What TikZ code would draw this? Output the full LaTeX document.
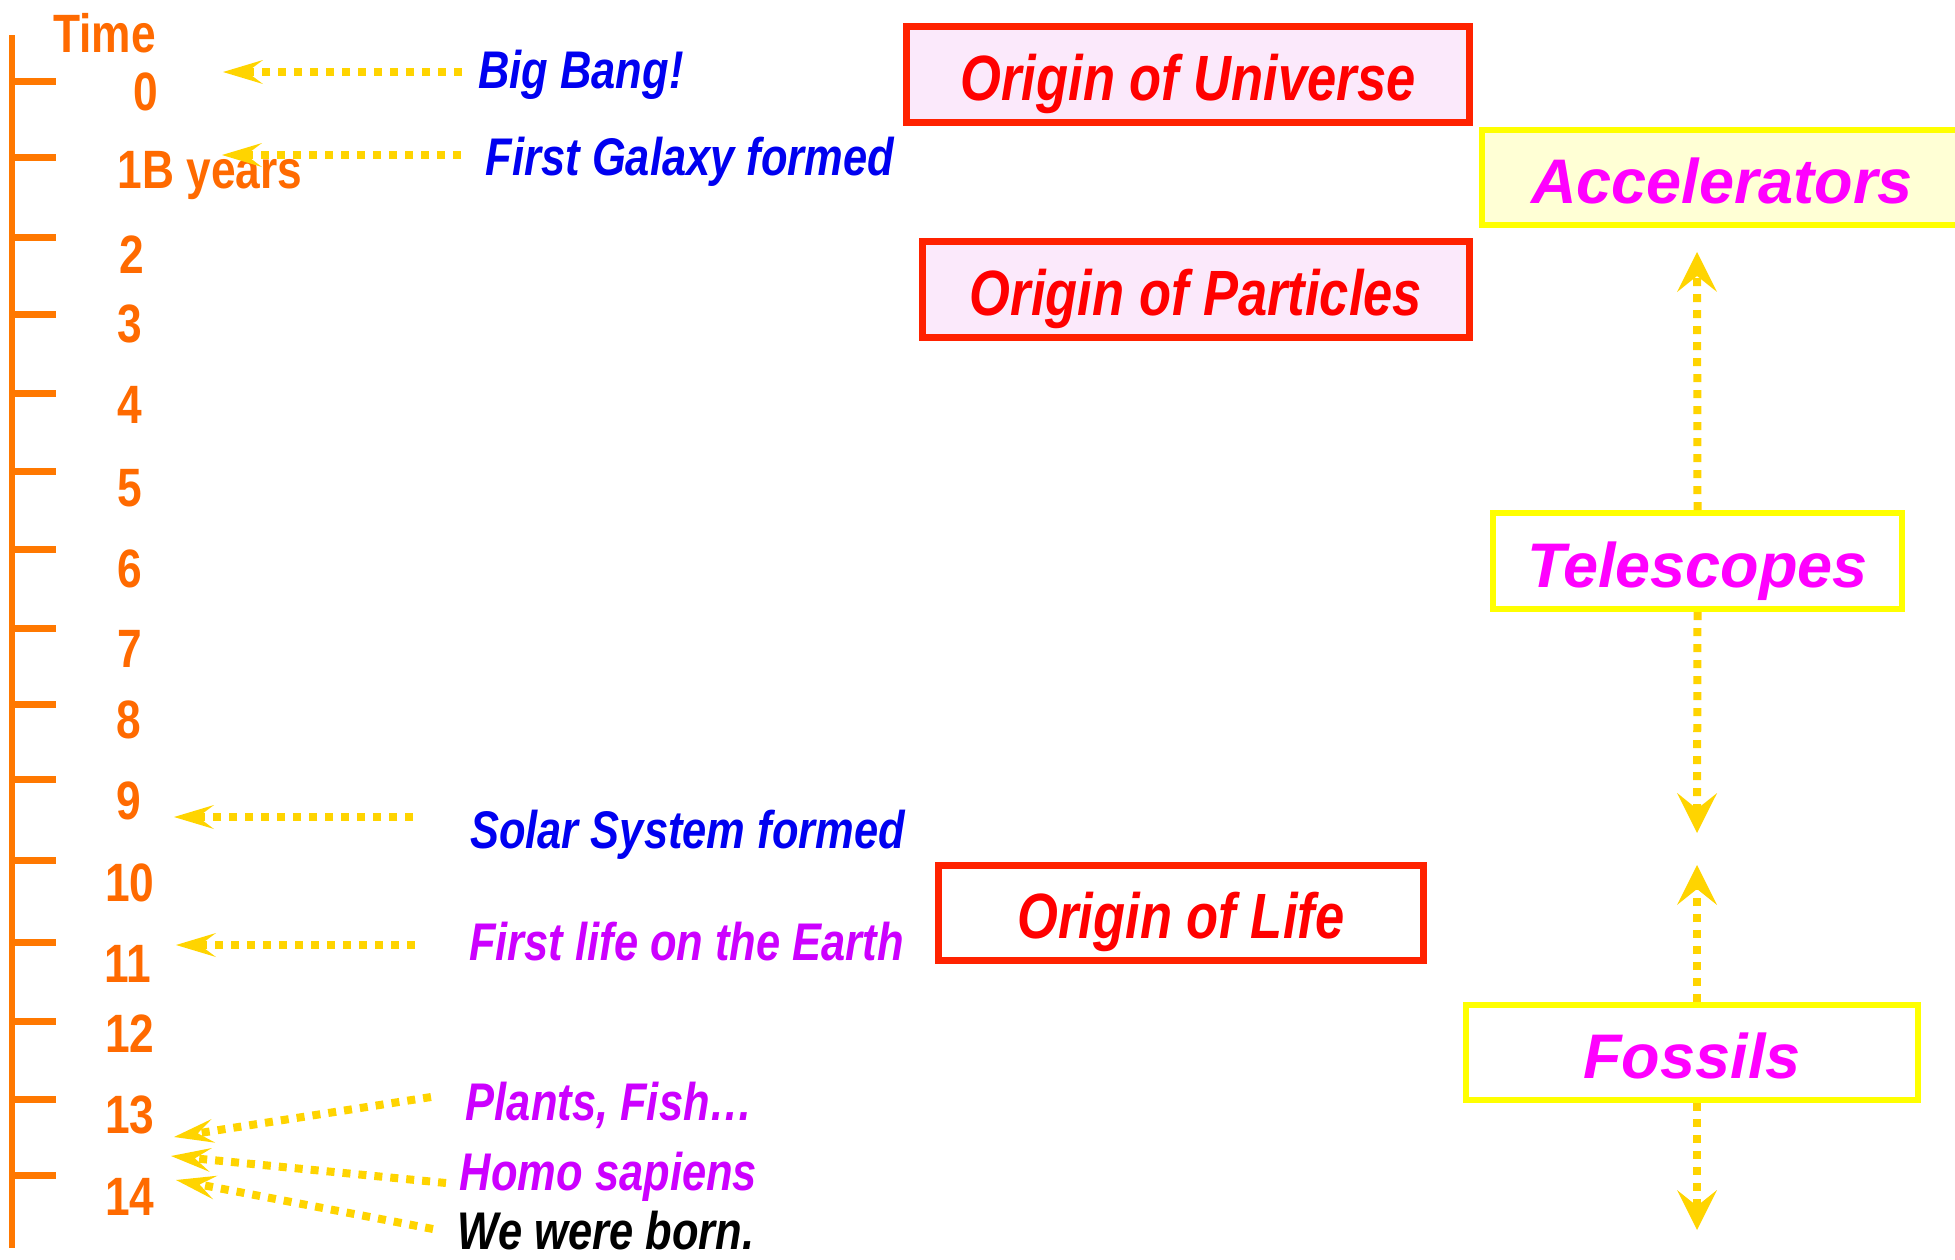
\documentclass[tikz,border=0pt]{standalone}
\usepackage{fontspec}
\setmainfont{Liberation Sans}
\newfontfamily\nar[FakeStretch=0.82]{Liberation Sans}
\usetikzlibrary{arrows.meta}
\definecolor{orangeT}{HTML}{FF6A00}
\definecolor{orangeL}{HTML}{FF7800}
\definecolor{gold}{HTML}{FFD400}
\definecolor{blueT}{HTML}{0000F0}
\definecolor{purpleT}{HTML}{CC00FF}
\definecolor{magT}{HTML}{FF00FF}
\definecolor{redT}{HTML}{FF0000}
\definecolor{redB}{HTML}{FF2200}
\definecolor{pinkF}{HTML}{FBE9FB}
\definecolor{yelB}{HTML}{FFFF00}
\definecolor{yelF}{HTML}{FFFFD5}
\begin{document}
\begin{tikzpicture}[x=0.5pt,y=-0.5pt,
  tl/.style={font=\nar\bfseries\fontsize{27}{30}\selectfont, text=orangeT, inner sep=0pt, anchor=base},
  ev/.style={font=\nar\bfseries\itshape\fontsize{26.5}{30}\selectfont, inner sep=0pt, anchor=base},
  redbox/.style={draw=redB, line width=3.5pt, text=redT, inner sep=0pt, text depth=0pt,
     font=\nar\bfseries\itshape\fontsize{32}{36}\selectfont},
  yelbox/.style={draw=yelB, line width=3pt, text=magT, inner sep=0pt, text depth=0pt,
     font=\bfseries\itshape\fontsize{31.5}{36}\selectfont},
  tick/.style={draw=orangeL, line width=3.5pt},
  harrow/.style={draw=gold, line width=4pt, dash pattern=on 4pt off 4pt,
     -{Stealth[length=20pt,width=12pt,inset=8pt,line width=0pt,color=gold]}},
  varrow/.style={draw=gold, line width=4pt, dash pattern=on 4pt off 4pt,
     -{Stealth[length=20pt,width=20pt,inset=8pt,line width=0pt,color=gold]}}
]
\useasboundingbox (0,0) rectangle (1955,1259);
\clip (0,0) rectangle (1955,1259);

% axis
\coordinate (axtop) at (12,35);
\coordinate (axbot) at (12,1248);
\draw[draw=orangeL, line width=3pt] (axtop) -- (axbot);
\foreach \i/\y in {0/81,1/157,2/237,3/314,4/393,5/471,6/549,7/628,8/704,9/779,10/860,11/942,12/1021,13/1099,14/1175}{
  \coordinate (tk\i) at (12,\y);
  \coordinate (te\i) at (56,\y);
  \draw[tick] (tk\i) -- (te\i);
}

% axis labels
\node[tl] (ltime) at (104.5,52) {Time};
\node[tl] (l0) at (146,110) {0};
\node[tl] (l1) at (210,188) {1B years};
\node[tl] (l2) at (132,273) {2};
\node[tl] (l3) at (130,342) {3};
\node[tl] (l4) at (130,423) {4};
\node[tl] (l5) at (130,506) {5};
\node[tl] (l6) at (130,587) {6};
\node[tl] (l7) at (130,667) {7};
\node[tl] (l8) at (129,738) {8};
\node[tl] (l9) at (129,819) {9};
\node[tl] (l10) at (130,901) {10};
\node[tl] (l11) at (128,982) {11};
\node[tl] (l12) at (130,1052) {12};
\node[tl] (l13) at (130,1133) {13};
\node[tl] (l14) at (130,1215) {14};

% events
\node[ev, text=blueT] (bb) at (581,88) {Big Bang!};
\node[ev, text=blueT] (fg) at (690,175) {First Galaxy formed};
\node[ev, text=blueT] (ss) at (687.5,848) {Solar System formed};
\node[ev, text=purpleT] (fl) at (686.5,960) {First life on the Earth};
\node[ev, text=purpleT] (pf) at (609.5,1120) {Plants, Fish…};
\node[ev, text=purpleT] (hs) at (608.5,1190) {Homo sapiens};
\node[ev, text=black] (wb) at (606,1249) {We were born.};

% horizontal arrows
\coordinate (t0) at (462,72);    \coordinate (p0) at (223,72);
\coordinate (t1) at (461,155);   \coordinate (p1) at (222,155);
\coordinate (t9) at (413,817);   \coordinate (p9) at (174,817);
\coordinate (t11) at (415,945);  \coordinate (p11) at (176,945);
\coordinate (tpf) at (431,1097); \coordinate (ppf) at (174,1137);
\coordinate (ths) at (446,1183); \coordinate (phs) at (171,1156);
\coordinate (twb) at (433,1229); \coordinate (pwb) at (176,1180);
\draw[harrow] (t0) -- (p0);
\draw[harrow] (t1) -- (p1);
\draw[harrow] (t9) -- (p9);
\draw[harrow] (t11) -- (p11);
\draw[harrow] (tpf) -- (ppf);
\draw[harrow] (ths) -- (phs);
\draw[harrow] (twb) -- (pwb);

% red boxes
\node[redbox, fill=pinkF, minimum width=281.5pt, minimum height=48pt, text height=25.5pt] (ou) at (1188,74.5) {Origin of Universe};
\node[redbox, fill=pinkF, minimum width=273.5pt, minimum height=48pt, text height=25.5pt] (op) at (1196,289.5) {Origin of Particles};
\node[redbox, fill=white, minimum width=242.5pt, minimum height=47.5pt, text height=25pt] (ol) at (1181,913) {Origin of Life};

% yellow boxes
\node[yelbox, fill=yelF, minimum width=240pt, minimum height=47.5pt, text height=25.5pt] (acc) at (1722,177.5) {Accelerators};
\node[yelbox, fill=white, minimum width=204.5pt, minimum height=48pt, text height=26pt] (tel) at (1697.5,561) {Telescopes};
\node[yelbox, fill=white, minimum width=226pt, minimum height=47.5pt, text height=25.5pt] (fos) at (1692,1052.5) {Fossils};

% vertical arrows
\coordinate (va) at (1697,252);
\coordinate (vb) at (1697,833);
\coordinate (vc) at (1697,865);
\coordinate (vd) at (1697,1230);
\draw[varrow] (tel.north) -- (va);
\draw[varrow] (tel.south) -- (vb);
\draw[varrow] (vc |- fos.north) -- (vc);
\draw[varrow] (vd |- fos.south) -- (vd);
\end{tikzpicture}
\end{document}
